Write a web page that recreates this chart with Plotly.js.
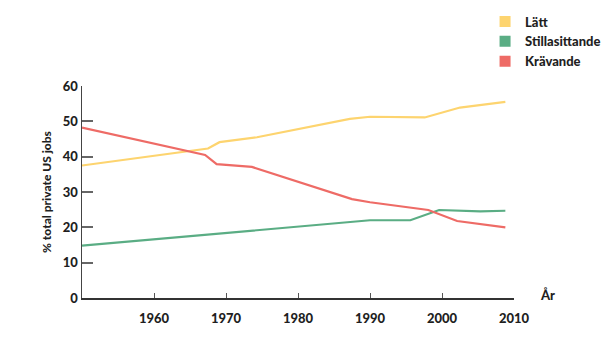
<!DOCTYPE html>
<html>
<head>
<meta charset="utf-8">
<script src="https://cdn.plot.ly/plotly-3.0.1.min.js"></script>
<style>html,body{margin:0;padding:0;background:#fff;}#chart{width:602px;height:352px;}</style>
</head>
<body>
<div id="chart"></div>
<script>
// Data
const lattYears = [1950, 1967.5, 1969.1, 1974.3, 1987.2, 1990, 1997.6, 2002.5, 2008.8];
const lattValues = [37.5, 42.3, 44.1, 45.5, 50.7, 51.3, 51.1, 53.9, 55.5];

const stillaYears = [1950, 1990, 1995.6, 1999.6, 2005.3, 2008.8];
const stillaValues = [14.8, 22.0, 22.0, 24.9, 24.5, 24.7];

const kravYears = [1950, 1967.1, 1968.7, 1973.6, 1987.5, 1990, 1998.1, 2002.1, 2008.8];
const kravValues = [48.2, 40.5, 37.9, 37.1, 28.0, 27.1, 24.9, 21.8, 20.0];

const seriesNames = ["Lätt", "Stillasittande", "Krävande"];
const seriesColors = ["#fdd46f", "#5aad84", "#ee6b66"];

const xTicks = [1960, 1970, 1980, 1990, 2000, 2010];
const yTicks = [0, 10, 20, 30, 40, 50, 60];

const FONT = "Lato, 'Open Sans', sans-serif";
const TXT = "#1f1f1f";

const xs = [lattYears, stillaYears, kravYears];
const ys = [lattValues, stillaValues, kravValues];

const traces = [];
for (let i = 0; i < 3; i++) {
  traces.push({
    x: xs[i], y: ys[i], type: "scatter", mode: "lines",
    line: {color: seriesColors[i], width: 2.2},
    showlegend: false, hoverinfo: "skip"
  });
}
for (let i = 0; i < 3; i++) {
  traces.push({
    x: [null], y: [null], type: "scatter", mode: "markers",
    name: seriesNames[i],
    marker: {symbol: "square", size: 11, color: seriesColors[i]},
    showlegend: true
  });
}

const layout = {
  width: 602, height: 352,
  margin: {l: 82, r: 88, t: 86, b: 54, autoexpand: false},
  paper_bgcolor: "#fff", plot_bgcolor: "#fff",
  font: {family: FONT, color: TXT, size: 13, weight: 900},
  showlegend: true,
  legend: {
    x: 0.933, y: 1.375, xanchor: "left", yanchor: "top",
    font: {family: FONT, size: 13, color: TXT, weight: 900},
    bgcolor: "rgba(0,0,0,0)", tracegroupgap: 0, itemwidth: 30
  },
  xaxis: {
    range: [1950, 2010], tickvals: xTicks, ticktext: xTicks.map(String),
    ticks: "inside", ticklen: 5, tickwidth: 1, tickcolor: "#555",
    showline: true, linecolor: "#333", linewidth: 1.5,
    showgrid: false, zeroline: false, fixedrange: true,
    ticklabelstandoff: 8,
    tickfont: {family: FONT, size: 13, color: TXT, weight: 900}
  },
  yaxis: {
    range: [0, 60], tickvals: yTicks, ticktext: yTicks.map(String),
    ticks: "inside", ticklen: 11, tickwidth: 2, tickcolor: "#666",
    showline: true, linecolor: "#444", linewidth: 1.5,
    showgrid: false, zeroline: false, fixedrange: true,
    tickfont: {family: FONT, size: 13, color: TXT, weight: 900},
    title: {text: "% total private US jobs", standoff: 8,
            font: {family: FONT, size: 12, color: TXT, weight: 900}}
  },
  annotations: [{
    text: "År", xref: "paper", yref: "paper", x: 1, y: 0,
    xanchor: "left", yanchor: "middle", xshift: 24, yshift: 3,
    showarrow: false, font: {family: FONT, size: 13, color: TXT, weight: 900}
  }]
};

Plotly.newPlot("chart", traces, layout, {displayModeBar: false, staticPlot: true});
</script>
</body>
</html>
